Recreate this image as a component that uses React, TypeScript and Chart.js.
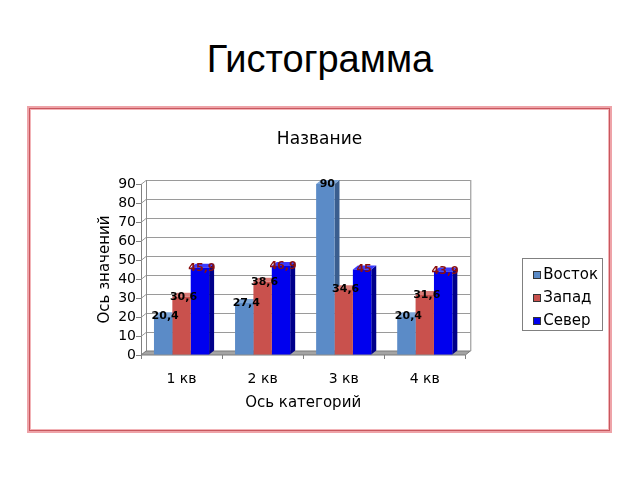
import React, { useEffect, useRef } from 'react';
import { Chart, registerables } from 'chart.js';

Chart.register(...registerables);

const pageTitle = 'Гистограмма';
const chartTitle = 'Название';
const xAxisTitle = 'Ось категорий';
const yAxisTitle = 'Ось значений';
const categories = ['1 кв', '2 кв', '3 кв', '4 кв'];
const seriesNames = ['Восток', 'Запад', 'Север'];
const vostok = [20.4, 27.4, 90, 20.4];
const zapad = [30.6, 38.6, 34.6, 31.6];
const sever = [45.9, 46.9, 45, 43.9];
const yMin = 0;
const yMax = 90;
const yStep = 10;

const frontColors = ['#5b8bc7', '#c9514d', '#0000ee'];
const sideColors = ['#3a5e8f', '#8f3532', '#00008a'];
const topColors = ['#7ea7d9', '#d97b77', '#3b3bff'];
const labelColors = ['#000000', '#000000', '#8b1010'];

const PAGE_FONT = '"Liberation Sans", Arial, sans-serif';
const FONT = '"DejaVu Sans", "Liberation Sans", sans-serif';
const DX = 5;
const DY = 4;

const threeD = {
  id: 'threeD',
  beforeDatasetsDraw(chart: any) {
    const { ctx } = chart;
    const { left, right, top, bottom } = chart.chartArea;
    const ys = chart.scales.y;
    ctx.save();
    ctx.lineWidth = 1;
    ctx.strokeStyle = '#9a9a9a';
    ys.ticks.forEach((t: any) => {
      const y = Math.round(ys.getPixelForValue(t.value)) + 0.5;
      ctx.beginPath();
      ctx.moveTo(left, y);
      ctx.lineTo(left + DX, y - DY);
      ctx.lineTo(right + DX, y - DY);
      ctx.stroke();
    });
    ctx.strokeStyle = '#8a8a8a';
    ctx.beginPath();
    ctx.moveTo(left + DX + 0.5, top - DY);
    ctx.lineTo(left + DX + 0.5, bottom - DY);
    ctx.moveTo(right + DX + 0.5, top - DY);
    ctx.lineTo(right + DX + 0.5, bottom - DY);
    ctx.stroke();
    // floor
    ctx.fillStyle = '#a4a4a4';
    ctx.strokeStyle = '#7a7a7a';
    ctx.beginPath();
    ctx.moveTo(left, bottom);
    ctx.lineTo(right, bottom);
    ctx.lineTo(right + DX, bottom - DY);
    ctx.lineTo(left + DX, bottom - DY);
    ctx.closePath();
    ctx.fill();
    ctx.stroke();
    // side & top faces
    const n = chart.data.labels.length;
    const nd = chart.data.datasets.length;
    for (let j = 0; j < n; j++) {
      for (let i = 0; i < nd; i++) {
        const el: any = chart.getDatasetMeta(i).data[j];
        if (!el) continue;
        const x1 = el.x - el.width / 2;
        const x2 = el.x + el.width / 2;
        const yt = el.y;
        const yb = el.base;
        ctx.fillStyle = sideColors[i];
        ctx.beginPath();
        ctx.moveTo(x2, yt);
        ctx.lineTo(x2 + DX, yt - DY);
        ctx.lineTo(x2 + DX, yb - DY);
        ctx.lineTo(x2, yb);
        ctx.closePath();
        ctx.fill();
        ctx.fillStyle = topColors[i];
        ctx.beginPath();
        ctx.moveTo(x1, yt);
        ctx.lineTo(x2, yt);
        ctx.lineTo(x2 + DX, yt - DY);
        ctx.lineTo(x1 + DX, yt - DY);
        ctx.closePath();
        ctx.fill();
      }
    }
    ctx.restore();
  },
  afterDatasetsDraw(chart: any) {
    const { ctx } = chart;
    ctx.save();
    ctx.font = 'bold 11px ' + FONT;
    ctx.textAlign = 'center';
    ctx.textBaseline = 'middle';
    chart.data.datasets.forEach((ds: any, i: number) => {
      chart.getDatasetMeta(i).data.forEach((el: any, j: number) => {
        const s = String(ds.data[j]).replace('.', ',');
        ctx.fillStyle = labelColors[i];
        ctx.fillText(s, el.x + 2, el.y);
      });
    });
    ctx.restore();
  },
  afterDraw(chart: any) {
    const lg = chart.legend;
    if (!lg || !lg.legendHitBoxes || !lg.legendHitBoxes.length) return;
    const hb = lg.legendHitBoxes;
    const { ctx } = chart;
    ctx.save();
    // legend swatches
    hb.forEach((h: any, i: number) => {
      const sx = Math.round(h.left) + 0.5;
      const sy = Math.round(h.top + (h.height - 8) / 2) + 0.5;
      ctx.fillStyle = frontColors[i];
      ctx.fillRect(sx, sy, 7, 7);
      ctx.strokeStyle = '#333333';
      ctx.lineWidth = 1;
      ctx.strokeRect(sx, sy, 7, 7);
    });
    const l = Math.min(...hb.map((h: any) => h.left)) - 11;
    const r = Math.max(...hb.map((h: any) => h.left + h.width)) + 4;
    const t = hb[0].top - 9.5;
    const last = hb[hb.length - 1];
    const b = last.top + last.height + 1;
    ctx.strokeStyle = '#808080';
    ctx.lineWidth = 1;
    ctx.strokeRect(Math.round(l) + 0.5, Math.round(t) + 0.5, Math.round(r - l), Math.round(b - t));
    ctx.restore();
  },
};

export default function App() {
  const ref = useRef<HTMLCanvasElement | null>(null);
  useEffect(() => {
    if (!ref.current) return;
    const series = [vostok, zapad, sever];
    const chart = new Chart(ref.current, {
      type: 'bar',
      data: {
        labels: categories,
        datasets: series.map((d, i) => ({
          label: seriesNames[i],
          data: d,
          backgroundColor: frontColors[i],
          borderWidth: 0,
          categoryPercentage: 0.68,
          barPercentage: 1.0,
          xAxisID: 'x',
          yAxisID: 'y',
        })),
      },
      options: {
        responsive: false,
        animation: false,
        layout: { padding: { left: 0, right: 0, top: 0, bottom: 0 } },
        plugins: {
          title: {
            display: true,
            text: chartTitle,
            color: '#000',
            font: { family: FONT, size: 17, weight: 'normal' },
            padding: { top: 19.8, bottom: 33.8 },
          },
          legend: {
            display: true,
            position: 'right',
            align: 'center',
            labels: {
              boxWidth: 3,
              boxHeight: 8,
              padding: 8,
              color: '#000',
              font: { family: FONT, size: 15 },
              generateLabels: (c: any) =>
                Chart.defaults.plugins.legend.labels.generateLabels(c).map((it: any) => ({
                  ...it,
                  fillStyle: 'rgba(0,0,0,0)',
                  strokeStyle: 'rgba(0,0,0,0)',
                  lineWidth: 0,
                })),
            },
          },
          tooltip: { enabled: false },
        },
        scales: {
          x: {
            type: 'category',
            position: 'bottom',
            grid: {
              offset: true,
              drawOnChartArea: false,
              drawTicks: true,
              tickLength: 4,
              tickColor: '#808080',
            },
            border: { display: false },
            ticks: { color: '#000', font: { family: FONT, size: 14 }, padding: 11.6 },
            title: {
              display: true,
              text: xAxisTitle,
              color: '#000',
              font: { family: FONT, size: 15 },
              padding: { top: -5, bottom: 74 },
            },
          },
          y: {
            type: 'linear',
            position: 'left',
            min: yMin,
            max: yMax,
            ticks: {
              stepSize: yStep,
              autoSkip: false,
              color: '#000',
              font: { family: FONT, size: 14 },
              padding: 0,
            },
            grid: {
              drawOnChartArea: false,
              drawTicks: true,
              tickLength: 5,
              tickColor: '#808080',
            },
            border: { display: true, color: '#808080' },
            title: {
              display: true,
              text: yAxisTitle,
              color: '#000',
              font: { family: FONT, size: 15 },
              padding: { top: 65, bottom: 4 },
            },
            afterFit: (s: any) => {
              s.width = 110;
            },
          },
          y2: {
            type: 'linear',
            axis: 'y',
            position: 'right',
            display: true,
            grid: { display: false },
            border: { display: false },
            ticks: { display: false },
            afterFit: (s: any) => {
              s.width = 59.5;
            },
          },
        },
      } as any,
      plugins: [threeD],
    });
    return () => chart.destroy();
  }, []);

  return (
    <div
      style={{
        position: 'fixed',
        left: 0,
        top: 0,
        width: 640,
        height: 480,
        overflow: 'hidden',
        background: '#fff',
      }}
    >
      <div
        style={{
          position: 'absolute',
          left: 0,
          top: 39,
          width: 640,
          height: 40,
          lineHeight: '40px',
          textAlign: 'center',
          fontFamily: PAGE_FONT,
          fontSize: 38,
          color: '#000',
        }}
      >
        {pageTitle}
      </div>
      <div
        style={{
          position: 'absolute',
          left: 27,
          top: 106,
          width: 585,
          height: 327,
          boxSizing: 'border-box',
          border: '2px solid #eea3a8',
          boxShadow: 'inset 0 0 0 1px #c8575e, inset 0 0 0 2px #f2b3b7',
          background: '#fff',
        }}
      />
      <canvas
        ref={ref}
        width={577}
        height={376}
        style={{ position: 'absolute', left: 31, top: 110, width: 577, height: 376 }}
      />
    </div>
  );
}
